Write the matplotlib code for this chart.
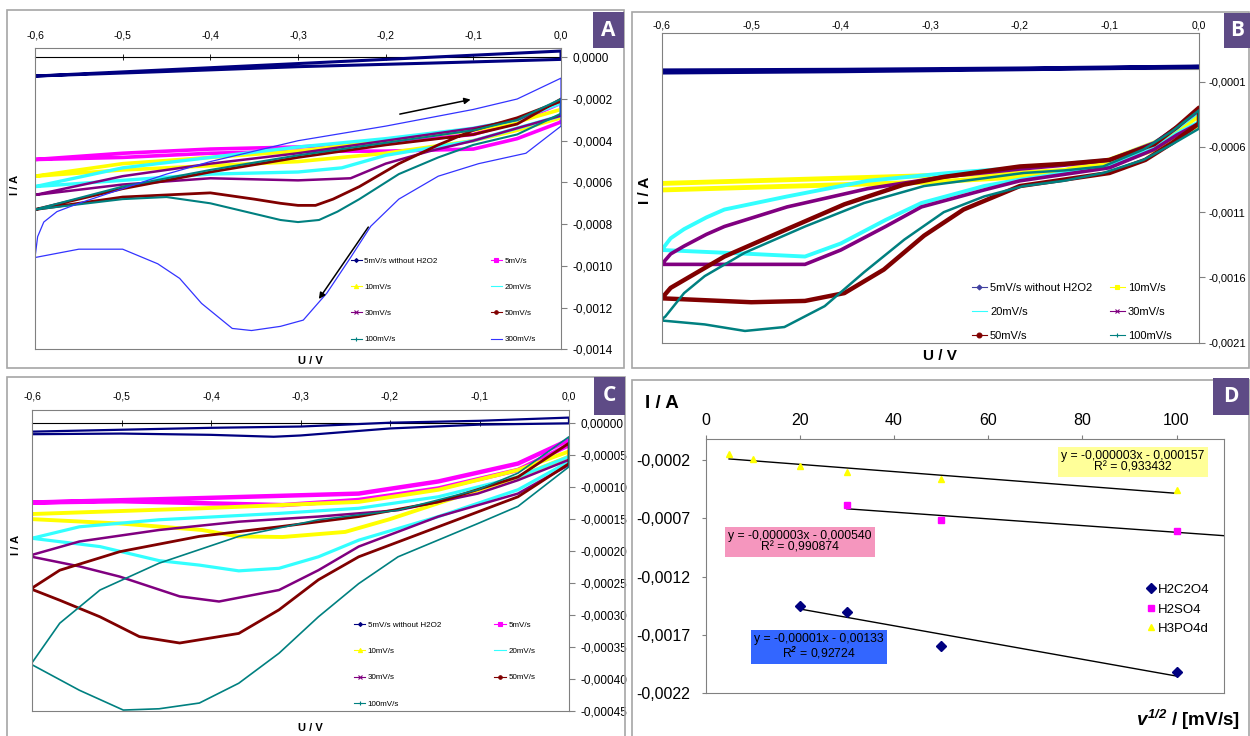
import numpy as np
import matplotlib
matplotlib.use("Agg")
import matplotlib.pyplot as plt
from matplotlib.lines import Line2D
from matplotlib.patches import Rectangle
from matplotlib.ticker import FuncFormatter

plt.rcParams['font.family'] = ['Liberation Sans', 'DejaVu Sans']
plt.rcParams['mathtext.fontset'] = 'custom'
plt.rcParams['mathtext.it'] = 'Liberation Sans:bold:italic'
plt.rcParams['mathtext.rm'] = 'Liberation Sans:bold:italic'

# ---------------- panel A : CV loops (U in V, I in A) ----------------
a_blank_u = [-0.6, -0.45, -0.3, -0.15, 0.0, 0.0, -0.15, -0.3, -0.45, -0.6]
a_blank_i = [-0.00009, -0.00006, -0.00003, 0.0, 0.00003, -0.00001, -0.000028, -0.000045, -0.000068, -0.00009]

a_5_u = [-0.6, -0.5, -0.4, -0.3, -0.2, -0.1, -0.05, 0.0, 0.0, -0.05, -0.1, -0.2, -0.3, -0.4, -0.5, -0.6]
a_5_i = [-0.00049, -0.00046, -0.00044, -0.00043, -0.00041, -0.00037, -0.00031, -0.00022,
         -0.00031, -0.00039, -0.00044, -0.00045, -0.00045, -0.00046, -0.00048, -0.00049]

a_10_u = [-0.6, -0.5, -0.4, -0.3, -0.2, -0.1, -0.05, 0.0, 0.0, -0.05, -0.1, -0.2, -0.3, -0.4, -0.5, -0.6]
a_10_i = [-0.00057, -0.00051, -0.00048, -0.00045, -0.00040, -0.00035, -0.00031, -0.00025,
          -0.00029, -0.00035, -0.00040, -0.00046, -0.00050, -0.00052, -0.00054, -0.00057]

a_20_u = [-0.6, -0.5, -0.4, -0.3, -0.2, -0.1, -0.05, 0.0, 0.0, -0.05, -0.1, -0.2, -0.25, -0.3, -0.4, -0.5, -0.6]
a_20_i = [-0.00062, -0.00053, -0.00048, -0.00043, -0.00039, -0.00034, -0.0003, -0.00022,
          -0.00028, -0.00034, -0.0004, -0.00047, -0.00053, -0.00055, -0.00056, -0.00059, -0.00062]

a_30_u = [-0.6, -0.5, -0.4, -0.3, -0.2, -0.1, -0.05, 0.0, 0.0, -0.05, -0.1, -0.15, -0.2, -0.24, -0.3, -0.4, -0.5, -0.6]
a_30_i = [-0.00066, -0.00057, -0.00051, -0.00046, -0.0004, -0.00034, -0.0003, -0.00021,
          -0.00028, -0.00034, -0.0004, -0.00045, -0.00051, -0.00058, -0.00059, -0.00058, -0.00061, -0.00066]

a_50_u = [-0.6, -0.5, -0.4, -0.3, -0.2, -0.1, -0.05, 0.0, 0.0, -0.05, -0.1, -0.14, -0.185, -0.23, -0.26, -0.28,
          -0.3, -0.32, -0.35, -0.4, -0.5, -0.6]
a_50_i = [-0.00073, -0.00063, -0.00055, -0.00048, -0.00042, -0.00037, -0.00032, -0.0002,
          -0.00021, -0.00029, -0.00035, -0.00042, -0.00051, -0.00062, -0.00068, -0.00071, -0.00071, -0.0007,
          -0.00068, -0.00065, -0.00067, -0.00073]

a_100_u = [-0.6, -0.5, -0.4, -0.3, -0.2, -0.1, -0.05, 0.0, 0.0, -0.05, -0.1, -0.14, -0.185, -0.23, -0.255,
           -0.276, -0.3, -0.32, -0.35, -0.4, -0.45, -0.5, -0.6]
a_100_i = [-0.00073, -0.00062, -0.00054, -0.00047, -0.00041, -0.00035, -0.0003, -0.0002,
           -0.00027, -0.00037, -0.00042, -0.00048, -0.00056, -0.00068, -0.00074, -0.00078, -0.00079, -0.00078,
           -0.00075, -0.0007, -0.00067, -0.00068, -0.00073]

a_300_u = [-0.6, -0.597, -0.59, -0.575, -0.55, -0.5, -0.45, -0.4, -0.3, -0.2, -0.1, -0.05, 0.0,
           0.0, -0.04, -0.094, -0.14, -0.185, -0.217, -0.24, -0.267, -0.294, -0.32, -0.353, -0.375, -0.41,
           -0.435, -0.46, -0.5, -0.55, -0.6]
a_300_i = [-0.00096, -0.00086, -0.00079, -0.00074, -0.0007, -0.00063, -0.00056, -0.0005, -0.0004, -0.00033,
           -0.00025, -0.0002, -0.0001,
           -0.00033, -0.00046, -0.00051, -0.00057, -0.00068, -0.00081, -0.00096, -0.00113, -0.00126, -0.00129,
           -0.00131, -0.0013, -0.00118, -0.00106, -0.00099, -0.00092, -0.00092, -0.00096]

# ---------------- panel B ----------------
b_blank_u = [-0.6, -0.4, -0.2, 0.0, 0.0, -0.2, -0.4, -0.6]
b_blank_i = [-0.000015, -0.00001, 0.0, 0.000015, 0.000012, -0.000005, -0.00002, -0.00003]

b_10_u = [-0.6, -0.5, -0.4, -0.3, -0.2, -0.15, -0.1, -0.05, -0.025, 0.0,
          0.0, -0.025, -0.05, -0.1, -0.15, -0.2, -0.3, -0.4, -0.5, -0.6]
b_10_i = [-0.00088, -0.00086, -0.00084, -0.00082, -0.0008, -0.00078, -0.0007, -0.00057, -0.00048, -0.00036,
          -0.00043, -0.00052, -0.00062, -0.00074, -0.0008, -0.00083, -0.00087, -0.00089, -0.00091, -0.00093]

b_20_u = [-0.6, -0.59, -0.575, -0.55, -0.53, -0.46, -0.37, -0.28, -0.2, -0.15, -0.1, -0.05, -0.025, 0.0,
          0.0, -0.025, -0.05, -0.1, -0.15, -0.2, -0.24, -0.31, -0.35, -0.4, -0.44, -0.5, -0.6]
b_20_i = [-0.00139, -0.0013, -0.00123, -0.00114, -0.00108, -0.00098, -0.00086, -0.0008, -0.00076, -0.00073,
          -0.0007, -0.00057, -0.00046, -0.00033,
          -0.00041, -0.0005, -0.00061, -0.00075, -0.0008, -0.00085, -0.0009, -0.00103, -0.00116, -0.00134,
          -0.00144, -0.00142, -0.00139]

b_30_u = [-0.6, -0.59, -0.575, -0.55, -0.53, -0.46, -0.37, -0.285, -0.2, -0.15, -0.1, -0.05, -0.025, 0.0,
          0.0, -0.025, -0.05, -0.1, -0.15, -0.2, -0.24, -0.31, -0.35, -0.4, -0.44, -0.5, -0.6]
b_30_i = [-0.0015, -0.00142, -0.00136, -0.00127, -0.00121, -0.00106, -0.00092, -0.00083, -0.00077, -0.00074,
          -0.0007, -0.00057, -0.00045, -0.00032,
          -0.00042, -0.00051, -0.00062, -0.00076, -0.00081, -0.00086, -0.00093, -0.00106, -0.00121, -0.00139,
          -0.0015, -0.0015, -0.0015]

b_50_u = [-0.6, -0.59, -0.575, -0.55, -0.53, -0.46, -0.396, -0.33, -0.285, -0.2, -0.15, -0.1, -0.05, -0.025, 0.0,
          0.0, -0.03, -0.06, -0.1, -0.15, -0.2, -0.263, -0.307, -0.352, -0.396, -0.44, -0.5, -0.6]
b_50_i = [-0.00176, -0.00168, -0.00162, -0.00152, -0.00144, -0.00123, -0.00104, -0.00089, -0.00083, -0.00075,
          -0.00073, -0.0007, -0.00058, -0.00045, -0.0003,
          -0.00042, -0.00057, -0.0007, -0.0008, -0.00085, -0.0009, -0.00108, -0.00128, -0.00154, -0.00172,
          -0.00178, -0.00179, -0.00176]

b_100_u = [-0.6, -0.596, -0.575, -0.552, -0.507, -0.44, -0.374, -0.307, -0.24, -0.196, -0.15, -0.107, -0.062,
           -0.03, 0.0,
           0.0, -0.03, -0.062, -0.107, -0.151, -0.196, -0.24, -0.285, -0.329, -0.374, -0.418, -0.463, -0.507,
           -0.552, -0.6]
b_100_i = [-0.00192, -0.0019, -0.00172, -0.00159, -0.00141, -0.00121, -0.00103, -0.0009, -0.00084, -0.0008,
           -0.00078, -0.00075, -0.00062, -0.00048, -0.00032,
           -0.00046, -0.00058, -0.0007, -0.0008, -0.00086, -0.0009, -0.00098, -0.0011, -0.00131, -0.00156,
           -0.00182, -0.00198, -0.00201, -0.00196, -0.00193]

# ---------------- panel C ----------------
c_blank_u = [-0.6, -0.5, -0.4, -0.3, -0.2, -0.1, 0.0, 0.0, -0.1, -0.2, -0.3, -0.33, -0.4, -0.5, -0.6]
c_blank_i = [-0.000013, -0.00001, -0.000007, -0.000005, 0.000001, 0.000004, 0.000009,
             0.0, -0.000002, -0.000008, -0.000019, -0.000021, -0.000018, -0.000016, -0.000017]

c_5_u = [-0.6, -0.41, -0.235, -0.146, -0.057, 0.0, 0.0, -0.057, -0.146, -0.235, -0.32, -0.41, -0.5, -0.6]
c_5_i = [-0.000124, -0.000117, -0.00011, -0.000091, -0.000063, -0.000026,
         -0.000034, -0.000073, -0.000102, -0.00012, -0.000128, -0.000125, -0.000122, -0.000124]

c_10_u = [-0.6, -0.41, -0.235, -0.146, -0.057, 0.0, 0.0, -0.057, -0.146, -0.2, -0.25, -0.32, -0.37, -0.41, -0.5, -0.6]
c_10_i = [-0.000142, -0.000133, -0.000123, -0.000104, -0.000073, -0.000044,
          -0.000052, -0.000084, -0.000125, -0.00015, -0.00017, -0.000178, -0.000177, -0.000167, -0.000157, -0.00015]

c_20_u = [-0.6, -0.547, -0.458, -0.324, -0.235, -0.146, -0.057, 0.0,
          0.0, -0.057, -0.146, -0.235, -0.28, -0.324, -0.369, -0.413, -0.458, -0.524, -0.6]
c_20_i = [-0.00018, -0.000162, -0.000151, -0.000141, -0.000133, -0.000115, -0.000084, -0.000052,
          -0.00006, -0.000104, -0.000146, -0.000183, -0.000209, -0.000227, -0.000231, -0.000222, -0.000215,
          -0.000193, -0.00018]

c_30_u = [-0.6, -0.547, -0.458, -0.369, -0.28, -0.191, -0.102, -0.057, 0.0,
          0.0, -0.057, -0.146, -0.235, -0.28, -0.324, -0.391, -0.435, -0.502, -0.547, -0.6]
c_30_i = [-0.000206, -0.000185, -0.000167, -0.000154, -0.000146, -0.000136, -0.00011, -0.000089, -0.000057,
          -0.000065, -0.00011, -0.000146, -0.000193, -0.00023, -0.000261, -0.000279, -0.000271, -0.00024,
          -0.000224, -0.000209]

c_50_u = [-0.6, -0.569, -0.502, -0.413, -0.324, -0.235, -0.146, -0.057, 0.0,
          0.0, -0.057, -0.146, -0.235, -0.28, -0.324, -0.369, -0.435, -0.48, -0.524, -0.569, -0.6]
c_50_i = [-0.000258, -0.00023, -0.000201, -0.000177, -0.000162, -0.000146, -0.000123, -0.000084, -0.000031,
          -0.000063, -0.000115, -0.000162, -0.000209, -0.000245, -0.000292, -0.000329, -0.000344, -0.000334,
          -0.000303, -0.000277, -0.00026]

c_100_u = [-0.6, -0.569, -0.524, -0.458, -0.369, -0.28, -0.191, -0.102, -0.057, 0.0,
           0.0, -0.057, -0.102, -0.191, -0.235, -0.28, -0.324, -0.369, -0.413, -0.458, -0.498, -0.547, -0.6]
c_100_i = [-0.000375, -0.000313, -0.000261, -0.000219, -0.000177, -0.000151, -0.000136, -0.000104, -0.000078,
           -0.000021,
           -0.000068, -0.00013, -0.000157, -0.000209, -0.000251, -0.000303, -0.00036, -0.000407, -0.000438,
           -0.000447, -0.000449, -0.000418, -0.000378]

# ---------------- panel D : peak current vs scan rate ----------------
d_h2c2o4_x = [20, 30, 50, 100]
d_h2c2o4_y = [-0.001449, -0.001507, -0.0018, -0.00202]
d_h2so4_x = [30, 50, 100]
d_h2so4_y = [-0.000587, -0.000716, -0.000807]
d_h3po4_x = [5, 10, 20, 30, 50, 100]
d_h3po4_y = [-0.000146, -0.000189, -0.000252, -0.0003, -0.00036, -0.000458]

d_eq_h2c2o4 = "y = -0,00001x - 0,00133\nR$^{2}$ = 0,92724"
d_eq_h2so4 = "y = -0,000003x - 0,000540\nR\u00b2 = 0,990874"
d_eq_h3po4 = "y = -0,000003x - 0,000157\nR\u00b2 = 0,933432"

cv_ticks = [-0.6, -0.5, -0.4, -0.3, -0.2, -0.1, 0.0]
b_yticks = [-0.0021, -0.0016, -0.0011, -0.0006, -0.0001]
c_yticks = [-0.00045, -0.0004, -0.00035, -0.0003, -0.00025, -0.0002, -0.00015, -0.0001, -0.00005, 0.0]
d_yticks = [-0.0022, -0.0017, -0.0012, -0.0007, -0.0002]
d_xticks = [0, 20, 40, 60, 80, 100]

NAVY = '#000080'
MAGENTA = '#FF00FF'
YELLOW = '#FFFF00'
CYAN = '#33FFFF'
PURPLE = '#800080'
DARKRED = '#800000'
TEAL = '#008080'
BLUE = '#3333FF'
FRAME = '#A6A6A6'
LETTER_BG = '#5E4B86'

W, H = 1250, 736


def rect(l, t, r, b):
    return [l / W, 1 - b / H, (r - l) / W, (b - t) / H]


def comma(dec):
    def f(v, pos):
        if abs(v) < 10 ** (-dec - 2):
            v = 0.0
        return f"{v:.{dec}f}".replace('.', ',')
    return FuncFormatter(f)


def proxy(color, marker, ms=3):
    return Line2D([], [], color=color, lw=0.8, marker=marker, ms=ms, mew=0.8)


def style_cv(ax, ylim, ydec, fs, yfs, xpad, ypad=4):
    ax.set_xlim(-0.6, 0.0)
    ax.set_ylim(*ylim)
    ax.set_xticks(cv_ticks)
    ax.xaxis.set_major_formatter(comma(1))
    ax.xaxis.set_ticks_position('top')
    ax.tick_params(axis='x', length=0, labelsize=fs, pad=xpad)
    ax.yaxis.tick_right()
    ax.yaxis.set_major_formatter(comma(ydec))
    ax.tick_params(axis='y', direction='out', length=4, color='#808080', labelsize=yfs, pad=ypad)
    for s in ax.spines.values():
        s.set_color('#808080')
        s.set_linewidth(0.8)


def zero_axis(ax, color='black'):
    lo, hi = ax.get_ylim()
    sec = ax.secondary_xaxis((0 - lo) / (hi - lo))
    sec.set_xticks(cv_ticks)
    sec.tick_params(direction='inout', length=4, width=0.6, color=color,
                    labeltop=False, labelbottom=False)
    for s in sec.spines.values():
        s.set_color(color)
        s.set_linewidth(0.8)


fig = plt.figure(figsize=(12.5, 7.36), dpi=100)

# outer panel frames
for l, t, r, b in [(7, 10, 624, 368), (632, 12, 1249, 368), (7, 377, 625, 740), (632, 380, 1249, 740)]:
    fig.add_artist(Rectangle((l / W, 1 - b / H), (r - l) / W, (b - t) / H, transform=fig.transFigure,
                             fill=False, edgecolor=FRAME, lw=1.2))

# ---------------- A ----------------
axA = fig.add_axes(rect(35, 47.7, 561, 349.3))
style_cv(axA, (-0.0014, 0.000046), 4, 7.5, 8.5, 5)
axA.plot(a_blank_u, a_blank_i, color=NAVY, lw=2.2)
axA.plot(a_5_u, a_5_i, color=MAGENTA, lw=2.6)
axA.plot(a_10_u, a_10_i, color=YELLOW, lw=2.6)
axA.plot(a_20_u, a_20_i, color=CYAN, lw=2.4)
axA.plot(a_30_u, a_30_i, color=PURPLE, lw=1.8)
axA.plot(a_50_u, a_50_i, color=DARKRED, lw=2.0)
axA.plot(a_100_u, a_100_i, color=TEAL, lw=1.5)
axA.plot(a_300_u, a_300_i, color=BLUE, lw=0.9)
zero_axis(axA)
axA.annotate('', xy=(-0.1, -0.0002), xytext=(-0.187, -0.000275),
             arrowprops=dict(arrowstyle='-|>', color='black', lw=1.1, mutation_scale=9))
axA.annotate('', xy=(-0.278, -0.00117), xytext=(-0.218, -0.000803),
             arrowprops=dict(arrowstyle='-|>', color='black', lw=1.1, mutation_scale=9))
hA = [proxy(NAVY, 'D', 2), proxy(YELLOW, '^'), proxy(PURPLE, 'x'), proxy(TEAL, '+'),
      proxy(MAGENTA, 's'), proxy(CYAN, None), proxy(DARKRED, 'o', 2.5), proxy(BLUE, None)]
lA = ['5mV/s without H2O2', '10mV/s', '30mV/s', '100mV/s', '5mV/s', '20mV/s', '50mV/s', '300mV/s']
axA.legend(hA, lA, ncol=2, loc='upper left', bbox_to_anchor=(0.6, 0.305), frameon=False, fontsize=5.8,
           labelspacing=2.3, handlelength=1.4, handletextpad=0.3, columnspacing=6.6, borderpad=0,
           borderaxespad=0)
fig.text(15 / W, 1 - 185 / H, 'I / A', rotation=90, ha='center', va='center', fontsize=8, fontweight='bold')
fig.text(310 / W, 1 - 361 / H, 'U / V', ha='center', va='center', fontsize=8, fontweight='bold')

# ---------------- B ----------------
axB = fig.add_axes(rect(661.7, 33.3, 1199, 342.7))
style_cv(axB, (-0.0021, 0.00027), 4, 7.5, 8, 2, ypad=3)
axB.set_yticks(b_yticks)
axB.axhline(0, color='#909090', lw=0.8)
axB.plot(b_blank_u, b_blank_i, color=NAVY, lw=3)
axB.plot(b_10_u, b_10_i, color=YELLOW, lw=3.5)
axB.plot(b_20_u, b_20_i, color=CYAN, lw=2.8)
axB.plot(b_30_u, b_30_i, color=PURPLE, lw=2.6)
axB.plot(b_50_u, b_50_i, color=DARKRED, lw=3.2)
axB.plot(b_100_u, b_100_i, color=TEAL, lw=1.8)
hB = [proxy('#4040A0', 'D', 2.5), proxy(CYAN, None), proxy(DARKRED, 'o', 3.5),
      proxy(YELLOW, 's'), proxy(PURPLE, 'x'), proxy(TEAL, '+')]
lB = ['5mV/s without H2O2', '20mV/s', '50mV/s', '10mV/s', '30mV/s', '100mV/s']
axB.legend(hB, lB, ncol=2, loc='upper left', bbox_to_anchor=(0.578, 0.193), frameon=False, fontsize=8,
           labelspacing=1.25, handlelength=1.3, handletextpad=0.3, columnspacing=1.6, borderpad=0,
           borderaxespad=0)
fig.text(645 / W, 1 - 190 / H, 'I / A', rotation=90, ha='center', va='center', fontsize=11, fontweight='bold')
fig.text(940 / W, 1 - 356 / H, 'U / V', ha='center', va='center', fontsize=11, fontweight='bold')

# ---------------- C ----------------
axC = fig.add_axes(rect(32, 410, 569, 710.7))
style_cv(axC, (-0.00045, 0.0000209), 5, 7.5, 8.5, 6)
axC.set_yticks(c_yticks)
axC.plot(c_blank_u, c_blank_i, color=NAVY, lw=1.6)
axC.plot(c_5_u, c_5_i, color=MAGENTA, lw=3.2)
axC.plot(c_10_u, c_10_i, color=YELLOW, lw=2.8)
axC.plot(c_20_u, c_20_i, color=CYAN, lw=2.3)
axC.plot(c_30_u, c_30_i, color=PURPLE, lw=1.8)
axC.plot(c_50_u, c_50_i, color=DARKRED, lw=2.0)
axC.plot(c_100_u, c_100_i, color=TEAL, lw=1.2)
zero_axis(axC)
hC = [proxy(NAVY, 'D', 2), proxy(YELLOW, '^'), proxy(PURPLE, 'x'), proxy(TEAL, '+'),
      proxy(MAGENTA, 's'), proxy(CYAN, None), proxy(DARKRED, 'o', 2.5)]
lC = ['5mV/s without H2O2', '10mV/s', '30mV/s', '100mV/s', '5mV/s', '20mV/s', '50mV/s']
axC.legend(hC, lC, ncol=2, loc='upper left', bbox_to_anchor=(0.6, 0.297), frameon=False, fontsize=5.8,
           labelspacing=2.3, handlelength=1.4, handletextpad=0.3, columnspacing=6.6, borderpad=0,
           borderaxespad=0)
fig.text(16 / W, 1 - 545 / H, 'I / A', rotation=90, ha='center', va='center', fontsize=8, fontweight='bold')
fig.text(310 / W, 1 - 728 / H, 'U / V', ha='center', va='center', fontsize=8, fontweight='bold')

# ---------------- D ----------------
axD = fig.add_axes(rect(705.5, 439, 1223.6, 693))
axD.set_xlim(0, 110)
axD.set_ylim(-0.0022, -0.000017)
axD.set_xticks(d_xticks)
axD.set_yticks(d_yticks)
axD.xaxis.set_ticks_position('top')
axD.yaxis.set_major_formatter(comma(4))
axD.tick_params(axis='x', direction='out', length=3, color='#808080', labelsize=11.5, pad=5)
axD.tick_params(axis='y', direction='out', length=3, color='#808080', labelsize=11.5, pad=8)
for s in axD.spines.values():
    s.set_color('#808080')
    s.set_linewidth(0.8)

for xs, ys, x_end in [(d_h3po4_x, d_h3po4_y, None), (d_h2so4_x, d_h2so4_y, 110), (d_h2c2o4_x, d_h2c2o4_y, None)]:
    k, c0 = np.polyfit(xs, ys, 1)
    xe = x_end if x_end is not None else max(xs)
    axD.plot([min(xs), xe], [k * min(xs) + c0, k * xe + c0], color='black', lw=1.0)

axD.plot(d_h2c2o4_x, d_h2c2o4_y, 'D', color=NAVY, ms=5, label='H2C2O4', clip_on=False)
axD.plot(d_h2so4_x, d_h2so4_y, 's', color=MAGENTA, ms=4, label='H2SO4', clip_on=False)
axD.plot(d_h3po4_x, d_h3po4_y, '^', color=YELLOW, ms=4, label='H3PO4d', clip_on=False)
axD.legend(loc='upper left', bbox_to_anchor=(0.852, 0.43), frameon=False, fontsize=9.5, numpoints=1,
           handlelength=0.6, handletextpad=0.2, labelspacing=0.55, borderpad=0, borderaxespad=0)

fig.text(1133 / W, 1 - 462 / H, d_eq_h3po4, ha='center', va='center', fontsize=8.8, linespacing=1.0,
         bbox=dict(boxstyle='square,pad=0.25', facecolor='#FFFF99', edgecolor='none'))
fig.text(800 / W, 1 - 542 / H, d_eq_h2so4, ha='center', va='center', fontsize=8.8, linespacing=1.0,
         bbox=dict(boxstyle='square,pad=0.25', facecolor='#F596BE', edgecolor='none'))
fig.text(819 / W, 1 - 647 / H, d_eq_h2c2o4, ha='center', va='center', fontsize=8.8, linespacing=1.0,
         bbox=dict(boxstyle='square,pad=0.25', facecolor='#3366FF', edgecolor='none'))
fig.text(645 / W, 1 - 403 / H, 'I / A', ha='left', va='center', fontsize=13.5, fontweight='bold')
fig.text(1240 / W, 1 - 720 / H, r'$v^{1/2}$ / [mV/s]', ha='right', va='center', fontsize=13.5,
         fontweight='bold')

# panel letters
for letter, (l, t, r, b) in zip('ABCD', [(593, 12, 624, 48), (1224, 13, 1250, 48),
                                         (594, 377, 625, 415), (1213, 378, 1249, 415)]):
    fig.add_artist(Rectangle((l / W, 1 - b / H), (r - l) / W, (b - t) / H, transform=fig.transFigure,
                             facecolor=LETTER_BG, edgecolor='none'))
    fig.text((l + r) / 2 / W, 1 - (t + b) / 2 / H, letter, ha='center', va='center', color='white',
             fontsize=15, fontweight='bold', family='Open Sans')

fig.savefig('out.png', dpi=100)
